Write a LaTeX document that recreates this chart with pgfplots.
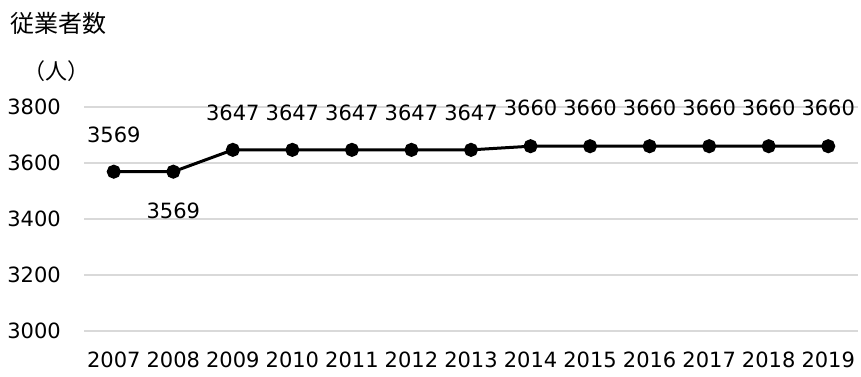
\documentclass[border=0pt]{standalone}
\usepackage{pgfplots}
\pgfplotsset{compat=1.18}
\usepackage{pgfplotstable}
\usepackage{fontspec}
\setmainfont{DejaVu Sans}
\newfontfamily\jp{Noto Sans CJK JP}

\pgfkeys{/pgf/number format/.cd,1000 sep={},assume math mode=true}

% year, employees, vertical offset of the value label (pt)
\pgfplotstableread{
year value dy
2007 3569 37
2008 3569 -39
2009 3647 37
2010 3647 37
2011 3647 37
2012 3647 37
2013 3647 37
2014 3660 38
2015 3660 38
2016 3660 38
2017 3660 38
2018 3660 38
2019 3660 38
}\datatable

\begin{document}
\begin{tikzpicture}
\path[use as bounding box] (0,0) rectangle (861pt,-376pt);
\node[anchor=west, font=\jp\fontsize{24}{28}\selectfont, inner sep=0pt] at (10.5pt,-23pt) {従業者数};
\node[font=\jp\fontsize{22}{26}\selectfont, inner sep=0pt] at (56.5pt,-71pt) {（人）};
\begin{axis}[
  at={(84pt,-331pt)}, anchor=south west,
  scale only axis, width=774pt, height=224pt,
  xmin=2006.5, xmax=2019.5, ymin=3000, ymax=3800,
  ytick={3000,3200,...,3800}, xtick=data,
  axis line style={draw=none}, major tick style={draw=none},
  ymajorgrids, grid style={color=black!15, line width=1.3pt},
  tick label style={font=\fontsize{21}{24}\selectfont},
  yticklabel style={anchor=east, inner sep=0pt, xshift=-23pt},
  xticklabel style={anchor=north, inner sep=0pt, yshift=-21pt},
  clip=false,
]
\addplot[black, line width=3pt, mark=*, mark size=5.5pt,
  visualization depends on={\thisrow{dy} \as \labeldy},
  nodes near coords,
  nodes near coords style={anchor=center, yshift=\labeldy pt,
    font=\fontsize{21}{24}\selectfont, text=black},
] table[x=year, y=value] {\datatable};
\end{axis}
\end{tikzpicture}
\end{document}
